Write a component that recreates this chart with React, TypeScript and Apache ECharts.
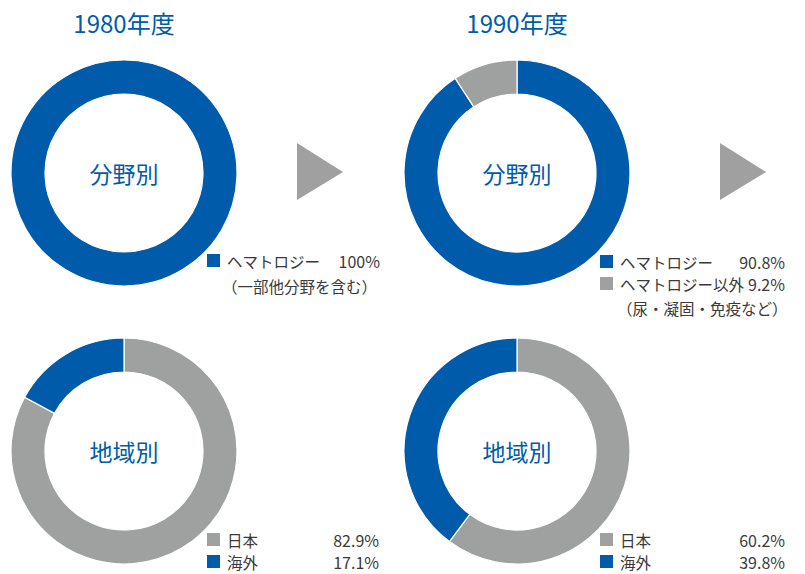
import React, { useEffect, useRef } from "react";
import * as echarts from "echarts";

const years = ["1980年度", "1990年度"];
const fieldNames1980 = ["ヘマトロジー"];
const fieldValues1980 = [100];
const fieldNote1980 = "（一部他分野を含む）";
const fieldNames1990 = ["ヘマトロジー", "ヘマトロジー以外"];
const fieldValues1990 = [90.8, 9.2];
const fieldNote1990 = "（尿・凝固・免疫など）";
const regionNames = ["日本", "海外"];
const regionValues1980 = [82.9, 17.1];
const regionValues1990 = [60.2, 39.8];
const centerLabels = ["分野別", "地域別"];

const BLUE = "#005bab";
const GREY = "#9fa0a0";
const TEXT = "#3a3a3a";
const FONT = "'Noto Sans CJK JP', 'Noto Sans', sans-serif";

export default function App() {
  const ref = useRef<HTMLDivElement>(null);
  useEffect(() => {
    if (!ref.current) return;
    const chart = echarts.init(ref.current, null, { renderer: "svg" });
    const cx = [124, 517];
    const cy = [173, 451];
    const radius = [79, 113];

    const mk = (names: string[], values: number[], colors: string[], c: number[]) => ({
      type: "pie",
      center: c,
      radius,
      startAngle: 90,
      clockwise: true,
      silent: true,
      label: { show: false },
      labelLine: { show: false },
      itemStyle: { borderColor: "#fff", borderWidth: 1.2 },
      data: names.map((n, i) => ({ name: n, value: values[i], itemStyle: { color: colors[i] } })),
    });

    const series = [
      mk(fieldNames1980, fieldValues1980, [BLUE], [cx[0], cy[0]]),
      mk(fieldNames1990, fieldValues1990, [BLUE, GREY], [cx[1], cy[0]]),
      mk(regionNames, regionValues1980, [GREY, BLUE], [cx[0], cy[1]]),
      mk(regionNames, regionValues1990, [GREY, BLUE], [cx[1], cy[1]]),
    ];

    const graphic: any[] = [];
    years.forEach((y, i) => {
      graphic.push({
        type: "text",
        x: cx[i],
        y: 22,
        style: { text: y, fill: BLUE, font: `24px ${FONT}`, align: "center", verticalAlign: "middle" },
      });
    });
    centerLabels.forEach((t, r) => {
      cx.forEach((x) => {
        graphic.push({
          type: "text",
          x,
          y: cy[r],
          style: { text: t, fill: BLUE, font: `23px ${FONT}`, align: "center", verticalAlign: "middle" },
        });
      });
    });
    // arrows
    [297, 720].forEach((x) => {
      graphic.push({
        type: "polygon",
        shape: { points: [[x, 143], [x + 46, 172], [x, 200]] },
        style: { fill: "#a0a0a0" },
      });
    });

    const legendRows = (
      names: string[],
      values: number[],
      colors: string[],
      sqX: number,
      valRight: number,
      ys: number[],
      valueText?: (v: number) => string
    ) => {
      names.forEach((n, i) => {
        graphic.push({
          type: "rect",
          shape: { x: sqX, y: ys[i] - 7, width: 13, height: 13 },
          style: { fill: colors[i] },
        });
        graphic.push({
          type: "text",
          x: sqX + 20,
          y: ys[i],
          style: { text: n, fill: TEXT, font: `15.5px ${FONT}`, verticalAlign: "middle" },
        });
        graphic.push({
          type: "text",
          x: valRight,
          y: ys[i],
          style: {
            text: valueText ? valueText(values[i]) : `${values[i]}%`,
            fill: TEXT,
            font: `16px ${FONT}`,
            align: "right",
            verticalAlign: "middle",
          },
        });
      });
    };

    legendRows(fieldNames1980, fieldValues1980, [BLUE], 207, 380, [261]);
    graphic.push({
      type: "text",
      x: 222,
      y: 286,
      style: { text: fieldNote1980, fill: TEXT, font: `15.5px ${FONT}`, verticalAlign: "middle" },
    });
    legendRows(fieldNames1990, fieldValues1990, [BLUE, GREY], 600, 785, [262, 284], (v) => v.toFixed(1) + "%");
    graphic.push({
      type: "text",
      x: 617,
      y: 308,
      style: { text: fieldNote1990, fill: TEXT, font: `15.5px ${FONT}`, verticalAlign: "middle" },
    });
    legendRows(regionNames, regionValues1980, [GREY, BLUE], 207, 379, [540, 562], (v) => v.toFixed(1) + "%");
    legendRows(regionNames, regionValues1990, [GREY, BLUE], 600, 785, [540, 562], (v) => v.toFixed(1) + "%");

    chart.setOption({
      animation: false,
      backgroundColor: "#ffffff",
      series,
      graphic,
    });
    return () => chart.dispose();
  }, []);
  return (
    <div
      ref={ref}
      style={{ position: "fixed", left: 0, top: 0, width: 805, height: 574 }}
    />
  );
}
